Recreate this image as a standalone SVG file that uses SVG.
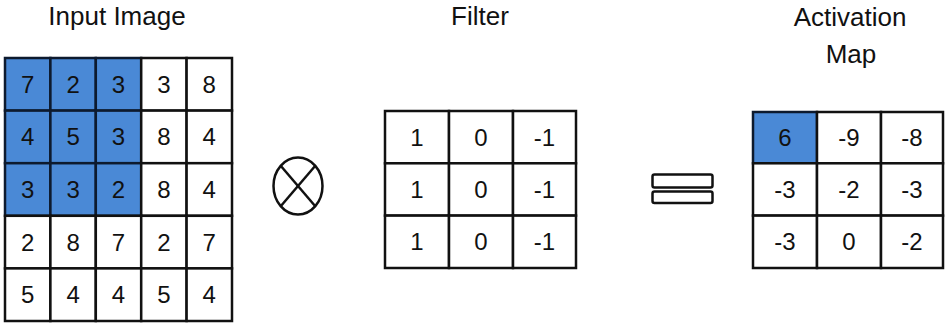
<svg xmlns="http://www.w3.org/2000/svg" width="950" height="326" viewBox="0 0 950 326">
<style>
.t{font-family:"Liberation Sans",Arial,sans-serif;fill:#111;text-anchor:middle}
.h{font-size:26px}
.n{font-size:24px;dominant-baseline:central}
.c{fill:#fff;stroke:#111;stroke-width:2.5}
.b{fill:#4a89d6;stroke:#0d1a2e;stroke-width:2.5}
.s{fill:none;stroke:#111;stroke-width:2.5}
</style>
<rect width="950" height="326" fill="#fff"/>
<g id="title-input"><text class="t h" x="117" y="25">Input Image</text></g>
<g id="title-filter"><text class="t h" x="480" y="25">Filter</text></g>
<g id="title-activation"><text class="t h" x="850" y="26">Activation</text><text class="t h" x="851" y="63">Map</text></g>
<g id="input-image">
<rect class="b" x="5" y="58" width="45.4" height="52.6"/><rect class="b" x="50.4" y="58" width="45.4" height="52.6"/><rect class="b" x="95.8" y="58" width="45.4" height="52.6"/>
<rect class="c" x="141.2" y="58" width="45.4" height="52.6"/><rect class="c" x="186.6" y="58" width="45.4" height="52.6"/>
<rect class="b" x="5" y="110.6" width="45.4" height="52.6"/><rect class="b" x="50.4" y="110.6" width="45.4" height="52.6"/><rect class="b" x="95.8" y="110.6" width="45.4" height="52.6"/>
<rect class="c" x="141.2" y="110.6" width="45.4" height="52.6"/><rect class="c" x="186.6" y="110.6" width="45.4" height="52.6"/>
<rect class="b" x="5" y="163.2" width="45.4" height="52.6"/><rect class="b" x="50.4" y="163.2" width="45.4" height="52.6"/><rect class="b" x="95.8" y="163.2" width="45.4" height="52.6"/>
<rect class="c" x="141.2" y="163.2" width="45.4" height="52.6"/><rect class="c" x="186.6" y="163.2" width="45.4" height="52.6"/>
<rect class="c" x="5" y="215.8" width="45.4" height="52.6"/><rect class="c" x="50.4" y="215.8" width="45.4" height="52.6"/><rect class="c" x="95.8" y="215.8" width="45.4" height="52.6"/><rect class="c" x="141.2" y="215.8" width="45.4" height="52.6"/><rect class="c" x="186.6" y="215.8" width="45.4" height="52.6"/>
<rect class="c" x="5" y="268.4" width="45.4" height="52.6"/><rect class="c" x="50.4" y="268.4" width="45.4" height="52.6"/><rect class="c" x="95.8" y="268.4" width="45.4" height="52.6"/><rect class="c" x="141.2" y="268.4" width="45.4" height="52.6"/><rect class="c" x="186.6" y="268.4" width="45.4" height="52.6"/>
<text class="t n" x="27.7" y="84.3">7</text><text class="t n" x="73.1" y="84.3">2</text><text class="t n" x="118.5" y="84.3">3</text><text class="t n" x="163.9" y="84.3">3</text><text class="t n" x="209.3" y="84.3">8</text>
<text class="t n" x="27.7" y="136.9">4</text><text class="t n" x="73.1" y="136.9">5</text><text class="t n" x="118.5" y="136.9">3</text><text class="t n" x="163.9" y="136.9">8</text><text class="t n" x="209.3" y="136.9">4</text>
<text class="t n" x="27.7" y="189.5">3</text><text class="t n" x="73.1" y="189.5">3</text><text class="t n" x="118.5" y="189.5">2</text><text class="t n" x="163.9" y="189.5">8</text><text class="t n" x="209.3" y="189.5">4</text>
<text class="t n" x="27.7" y="242.1">2</text><text class="t n" x="73.1" y="242.1">8</text><text class="t n" x="118.5" y="242.1">7</text><text class="t n" x="163.9" y="242.1">2</text><text class="t n" x="209.3" y="242.1">7</text>
<text class="t n" x="27.7" y="294.7">5</text><text class="t n" x="73.1" y="294.7">4</text><text class="t n" x="118.5" y="294.7">4</text><text class="t n" x="163.9" y="294.7">5</text><text class="t n" x="209.3" y="294.7">4</text>
</g>
<g id="operator-conv">
<ellipse class="s" cx="298" cy="186" rx="24.5" ry="28.5"/>
<line class="s" x1="280.7" y1="165.8" x2="315.3" y2="206.2"/>
<line class="s" x1="315.3" y1="165.8" x2="280.7" y2="206.2"/>
</g>
<g id="filter">
<rect class="c" x="385" y="111" width="64" height="52.3"/><rect class="c" x="449" y="111" width="64" height="52.3"/><rect class="c" x="513" y="111" width="63" height="52.3"/>
<rect class="c" x="385" y="163.3" width="64" height="52.3"/><rect class="c" x="449" y="163.3" width="64" height="52.3"/><rect class="c" x="513" y="163.3" width="63" height="52.3"/>
<rect class="c" x="385" y="215.6" width="64" height="52.4"/><rect class="c" x="449" y="215.6" width="64" height="52.4"/><rect class="c" x="513" y="215.6" width="63" height="52.4"/>
<text class="t n" x="417" y="137.2">1</text><text class="t n" x="481" y="137.2">0</text><text class="t n" x="544.5" y="137.2">-1</text>
<text class="t n" x="417" y="189.5">1</text><text class="t n" x="481" y="189.5">0</text><text class="t n" x="544.5" y="189.5">-1</text>
<text class="t n" x="417" y="241.8">1</text><text class="t n" x="481" y="241.8">0</text><text class="t n" x="544.5" y="241.8">-1</text>
</g>
<g id="operator-equals">
<rect class="s" x="652.5" y="174.5" width="60" height="13" rx="2"/>
<rect class="s" x="652.5" y="191.5" width="60" height="11.5" rx="2"/>
</g>
<g id="activation-map">
<rect class="b" x="753" y="112" width="64" height="51.3"/><rect class="c" x="817" y="112" width="64" height="51.3"/><rect class="c" x="881" y="112" width="62" height="51.3"/>
<rect class="c" x="753" y="163.3" width="64" height="52.3"/><rect class="c" x="817" y="163.3" width="64" height="52.3"/><rect class="c" x="881" y="163.3" width="62" height="52.3"/>
<rect class="c" x="753" y="215.6" width="64" height="52.4"/><rect class="c" x="817" y="215.6" width="64" height="52.4"/><rect class="c" x="881" y="215.6" width="62" height="52.4"/>
<text class="t n" x="785" y="137.7">6</text><text class="t n" x="849" y="137.7">-9</text><text class="t n" x="912" y="137.7">-8</text>
<text class="t n" x="785" y="189.5">-3</text><text class="t n" x="849" y="189.5">-2</text><text class="t n" x="912" y="189.5">-3</text>
<text class="t n" x="785" y="241.8">-3</text><text class="t n" x="849" y="241.8">0</text><text class="t n" x="912" y="241.8">-2</text>
</g>
</svg>
